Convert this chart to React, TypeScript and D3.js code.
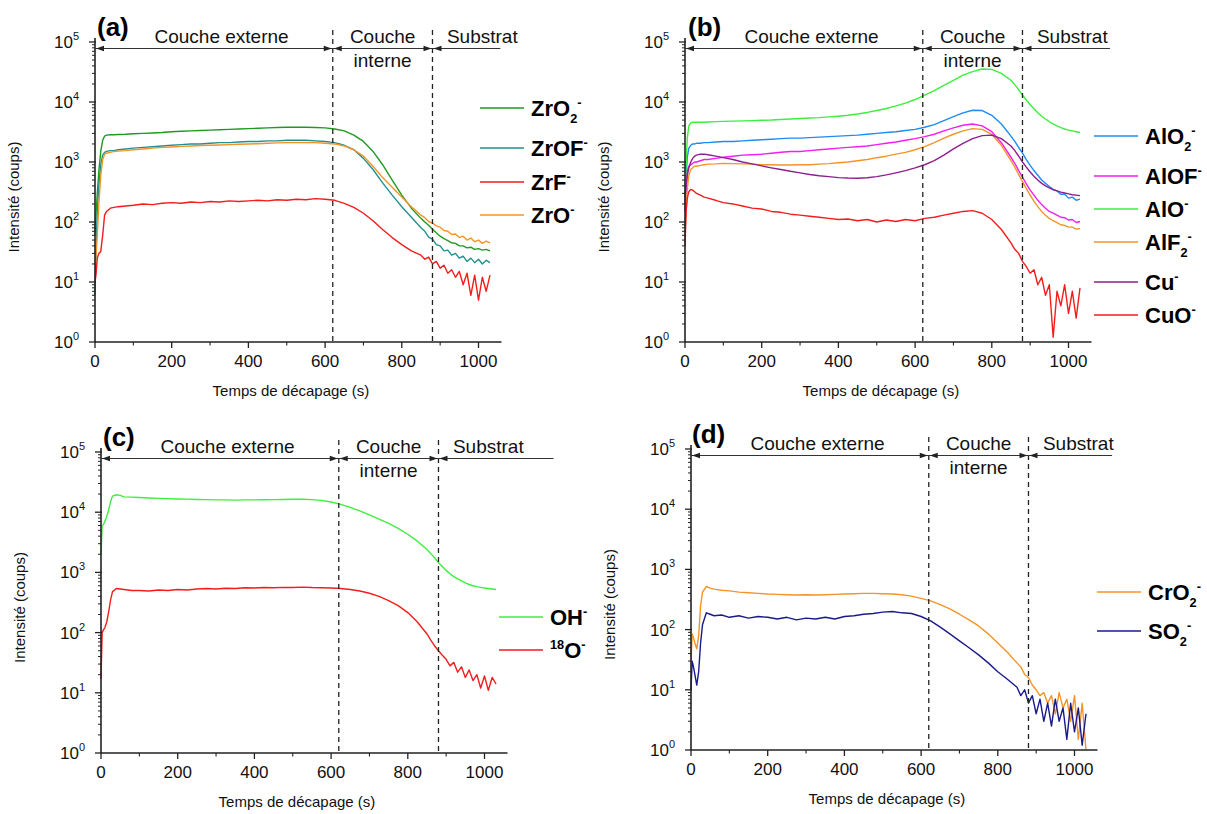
import React from "react";
import * as d3 from "d3";

// Sputtering time grid (s)
const TIME = [0,3,6,10,15,20,25,30,40,50,60,80,100,125,150,175,200,225,250,275,300,325,350,375,400,425,450,475,500,525,550,575,600,625,650,675,700,725,750,775,800,825,850,860,870,880,890,900,910,920,930,940,950,960,970,980,990,1000,1010,1020,1030];

// Panel (a)
const ZRO2 = [60,150,300,700,1500,2300,2700,2800,2850,2850,
 2880,2900,2950,3000,3050,3100,3200,3250,3300,3350,
 3400,3450,3500,3550,3600,3650,3700,3750,3800,3800,
 3800,3750,3700,3550,3300,2800,2200,1500,900,500,
 280,170,115,100,88,76,66,58,53,49,
 45,44,40,40,37,38,35,36,34,35,33];
const ZROF = [6,40,150,400,900,1300,1450,1500,1550,1550,
 1600,1650,1700,1750,1800,1850,1900,1950,2000,2000,
 2050,2100,2100,2150,2200,2200,2250,2250,2300,2300,
 2300,2250,2200,2100,1900,1600,1150,750,450,280,
 180,120,80,70,56,52,42,40,33,34,
 28,30,25,27,22,25,21,24,20,23,21];
const ZRF = [10,14,25,30,32,60,130,150,170,175,
 180,185,190,200,195,205,210,205,215,210,
 220,215,225,220,225,230,225,235,230,240,
 235,245,240,230,205,175,140,105,75,55,
 42,33,28,24,26,20,22,17,19,14,
 16,12,15,9,14,6,13,5,12,7,13];
const ZRO = [20,30,60,200,600,1100,1350,1400,1450,1500,
 1520,1550,1600,1650,1700,1750,1780,1820,1850,1880,
 1900,1920,1950,1980,2000,2020,2050,2080,2100,2100,
 2100,2100,2050,2000,1850,1600,1250,850,550,380,
 260,180,130,118,102,96,86,82,72,70,
 62,63,55,58,50,54,47,50,44,48,45];

// Panel (b)
const ALO2 = [200,600,1200,1700,1900,2000,2000,2050,2050,2100,
 2100,2150,2200,2200,2250,2300,2350,2400,2450,2500,
 2500,2550,2600,2650,2700,2750,2800,2900,3000,3100,
 3200,3350,3500,3800,4200,4900,5700,6600,7300,7200,
 6000,4300,2700,2200,1750,1400,1100,880,720,600,
 500,440,390,350,330,290,290,250,260,230,240];
const ALOF = [150,400,700,850,900,950,1000,1000,1050,1100,
 1100,1150,1200,1250,1300,1320,1350,1400,1450,1500,
 1500,1550,1600,1650,1700,1750,1800,1850,1950,2050,
 2150,2300,2450,2650,2900,3300,3700,4100,4300,4000,
 3200,2100,1200,950,720,560,430,340,280,230,
 195,170,150,140,130,120,118,108,110,98,102];
const ALO = [300,1000,2500,4000,4500,4600,4600,4600,4600,4600,
 4650,4700,4750,4800,4850,4900,4950,5000,5100,5200,
 5300,5400,5500,5650,5800,6000,6300,6700,7200,7800,
 8600,9600,11000,13000,15500,19000,23000,28000,32000,35500,
 35000,30000,23000,19500,16000,13000,10800,9000,7700,6600,
 5800,5200,4700,4300,4000,3750,3550,3400,3300,3200,3100];
const ALF2 = [80,150,350,600,750,800,850,850,880,900,
 920,930,950,940,930,920,900,900,890,890,
 900,900,920,940,970,1000,1050,1100,1180,1250,
 1350,1450,1600,1800,2100,2500,2900,3300,3600,3500,
 2900,1900,1050,820,620,470,360,280,220,180,
 150,130,115,105,98,90,88,82,82,76,78];
const CU = [250,400,600,800,1000,1150,1250,1300,1350,1350,
 1320,1250,1180,1100,1000,930,860,800,750,700,
 660,620,590,570,550,540,535,545,570,610,
 660,720,800,900,1050,1300,1650,2050,2450,2750,
 2800,2450,1850,1550,1250,1000,820,680,580,500,
 440,400,370,345,330,315,305,295,285,280,275];
const CUO = [40,150,250,320,350,340,320,300,280,260,
 250,230,210,200,185,170,165,150,145,135,
 130,125,120,115,110,112,105,110,100,108,
 102,110,105,115,120,130,140,150,155,140,
 110,75,45,35,30,22,18,14,16,9,
 12,6,9,1.2,7,4,9,3,7,2.5,8];

// Panel (c)
const OH = [2000,6000,6200,7000,8500,11000,15000,18500,19500,19000,
 18000,17800,17500,17200,17000,16800,16600,16500,16300,16200,
 16000,16000,15900,16000,16000,16100,16200,16300,16400,16400,
 16200,15700,14800,13500,12000,10500,9000,7700,6500,5400,
 4300,3300,2400,2050,1750,1450,1250,1080,950,850,
 780,720,670,630,600,580,565,550,540,530,520];
const O18 = [17,100,110,120,150,220,350,480,540,530,
 520,500,500,490,510,500,520,510,530,540,
 530,545,540,555,550,560,555,565,560,570,
 560,555,550,540,520,490,450,400,340,280,
 215,150,95,75,60,50,42,36,28,32,
 22,27,18,24,16,20,12,19,11,18,14];

// Panel (d)
const CRO2 = [30,85,75,60,48,80,250,420,520,490,
 470,450,440,420,410,400,390,385,380,375,
 380,375,380,385,390,395,400,400,395,390,
 380,360,330,300,260,220,180,145,115,85,
 60,42,28,24,18,16,12,10,8,9,
 6,8,4,9,5,7,3,8,1.5,6,1];
const SO2 = [10,30,25,18,12,20,60,120,190,180,
 170,175,160,170,155,165,160,150,160,145,
 155,150,160,150,165,170,180,185,195,200,
 190,185,165,140,110,85,65,50,38,28,
 20,15,11,8,10,6,8,4,7,3,
 6,2.5,7,3,5,1.5,6,2,5,1.2,4];

const X_TICKS = [0, 200, 400, 600, 800, 1000];
const X_MINOR = [100, 300, 500, 700, 900];
const Y_EXP = [0, 1, 2, 3, 4, 5];
const BOUNDARIES = [620, 880];

const FONT = "'Liberation Sans', Arial, Helvetica, sans-serif";
const PX = 0.3835;

type Part = { t: string; sub?: boolean; sup?: boolean };
type Series = { name: Part[]; color: string; values: number[] };

const C_GREEN_DARK = "#1f9a22";
const C_TEAL = "#23908f";
const C_RED = "#f41c1c";
const C_ORANGE = "#f49428";
const C_BLUE = "#1e8cf2";
const C_MAGENTA = "#f21ef2";
const C_LIME = "#3cef3c";
const C_PURPLE = "#8e1f8e";
const C_NAVY = "#1a1a8c";

const PANELS = [
  {
    label: "(a)", x0: 95, top: 42, bottom: 342, labelX: 97, labelY: 36, arrowEnd: 1057,
    legendX: 480, legendY: [108, 148, 182, 215],
    series: [
      { name: [{ t: "ZrO" }, { t: "2", sub: true }, { t: "-", sup: true }], color: C_GREEN_DARK, values: ZRO2 },
      { name: [{ t: "ZrOF" }, { t: "-", sup: true }], color: C_TEAL, values: ZROF },
      { name: [{ t: "ZrF" }, { t: "-", sup: true }], color: C_RED, values: ZRF },
      { name: [{ t: "ZrO" }, { t: "-", sup: true }], color: C_ORANGE, values: ZRO },
    ] as Series[],
  },
  {
    label: "(b)", x0: 685, top: 42, bottom: 342, labelX: 688, labelY: 36, arrowEnd: 1108,
    legendX: 1094, legendY: [136, 176, 209, 242, 282, 315],
    series: [
      { name: [{ t: "AlO" }, { t: "2", sub: true }, { t: "-", sup: true }], color: C_BLUE, values: ALO2 },
      { name: [{ t: "AlOF" }, { t: "-", sup: true }], color: C_MAGENTA, values: ALOF },
      { name: [{ t: "AlO" }, { t: "-", sup: true }], color: C_LIME, values: ALO },
      { name: [{ t: "AlF" }, { t: "2", sub: true }, { t: "-", sup: true }], color: C_ORANGE, values: ALF2 },
      { name: [{ t: "Cu" }, { t: "-", sup: true }], color: C_PURPLE, values: CU },
      { name: [{ t: "CuO" }, { t: "-", sup: true }], color: C_RED, values: CUO },
    ] as Series[],
  },
  {
    label: "(c)", x0: 101, top: 452, bottom: 753, labelX: 103, labelY: 446, arrowEnd: 1180,
    legendX: 499, legendY: [617, 650],
    series: [
      { name: [{ t: "OH" }, { t: "-", sup: true }], color: C_LIME, values: OH },
      { name: [{ t: "18", sup: true }, { t: "O" }, { t: "-", sup: true }], color: C_RED, values: O18 },
    ] as Series[],
  },
  {
    label: "(d)", x0: 691, top: 449, bottom: 750, labelX: 692, labelY: 443, arrowEnd: 1098,
    legendX: 1097, legendY: [592, 631],
    series: [
      { name: [{ t: "CrO" }, { t: "2", sub: true }, { t: "-", sup: true }], color: C_ORANGE, values: CRO2 },
      { name: [{ t: "SO" }, { t: "2", sub: true }, { t: "-", sup: true }], color: C_NAVY, values: SO2 },
    ] as Series[],
  },
];

function RichText({ parts, x, y, size, weight, anchor }: { parts: Part[]; x: number; y: number; size: number; weight?: string; anchor?: string }) {
  let cur = 0;
  const spans = parts.map((p, i) => {
    const target = p.sub ? size * 0.32 : p.sup ? -size * 0.42 : 0;
    const dy = target - cur;
    cur = target;
    return (
      <tspan key={i} dy={dy} fontSize={p.sub || p.sup ? size * 0.58 : size}>
        {p.t}
      </tspan>
    );
  });
  return (
    <text x={x} y={y} fontSize={size} fontWeight={weight || "normal"} textAnchor={anchor || "start"} fontFamily={FONT} fill="#000">
      {spans}
    </text>
  );
}

function Arrow({ x, y, dir }: { x: number; y: number; dir: number }) {
  const L = 8, H = 2.8;
  return <path d={`M${x},${y} L${x - dir * L},${y - H} L${x - dir * L},${y + H} Z`} fill="#222" />;
}

function Panel({ cfg }: { cfg: (typeof PANELS)[number] }) {
  const x = d3.scaleLinear().domain([0, 1060]).range([cfg.x0, cfg.x0 + 1060 * PX]);
  const y = d3.scaleLog().domain([1, 1e5]).range([cfg.bottom, cfg.top]);
  const line = d3
    .line<number>()
    .x((_, i) => x(TIME[i]))
    .y((v) => y(Math.max(v, 1)));
  const minors: number[] = [];
  for (let e = 0; e < 5; e++) for (let m = 2; m <= 9; m++) minors.push(m * Math.pow(10, e));
  const ay = cfg.top + 6.5;
  const b1 = x(BOUNDARIES[0]);
  const b2 = x(BOUNDARIES[1]);
  return (
    <g>
      {/* series */}
      {cfg.series.map((s, i) => (
        <path key={i} d={line(s.values) || ""} fill="none" stroke={s.color} strokeWidth={1.4} strokeLinejoin="round" />
      ))}
      {/* axes */}
      <line x1={cfg.x0} x2={cfg.x0} y1={cfg.bottom} y2={cfg.top - 4} stroke="#222" strokeWidth={1.6} />
      <line x1={cfg.x0} x2={x(1060)} y1={cfg.bottom} y2={cfg.bottom} stroke="#222" strokeWidth={1.6} />
      {Y_EXP.map((e) => (
        <g key={e}>
          <line x1={cfg.x0 - 6} x2={cfg.x0 + 1} y1={y(Math.pow(10, e))} y2={y(Math.pow(10, e))} stroke="#222" strokeWidth={1.3} />
          <text x={cfg.x0 - 16} y={y(Math.pow(10, e)) + 6} fontSize={17} textAnchor="end" fontFamily={FONT} fill="#111">
            <tspan>10</tspan>
            <tspan dy={-8} fontSize={11}>{e}</tspan>
          </text>
        </g>
      ))}
      {minors.map((v) => (
        <line key={v} x1={cfg.x0 - 3} x2={cfg.x0} y1={y(v)} y2={y(v)} stroke="#222" strokeWidth={1} />
      ))}
      {X_TICKS.map((t) => (
        <g key={t}>
          <line x1={x(t)} x2={x(t)} y1={cfg.bottom} y2={cfg.bottom + 6} stroke="#222" strokeWidth={1.3} />
          <text x={x(t)} y={cfg.bottom + 25} fontSize={17} textAnchor="middle" fontFamily={FONT} fill="#111">
            {t}
          </text>
        </g>
      ))}
      {X_MINOR.map((t) => (
        <line key={t} x1={x(t)} x2={x(t)} y1={cfg.bottom} y2={cfg.bottom + 3.5} stroke="#222" strokeWidth={1.1} />
      ))}
      {/* axis titles */}
      <text
        transform={`translate(${cfg.x0 - 76},${(cfg.top + cfg.bottom) / 2 + 5}) rotate(-90)`}
        fontSize={15} textAnchor="middle" fontFamily={FONT} fill="#111"
      >
        Intensité (coups)
      </text>
      <text x={cfg.x0 + 196} y={cfg.bottom + 54} fontSize={15} textAnchor="middle" fontFamily={FONT} fill="#111">
        Temps de décapage (s)
      </text>
      {/* boundaries */}
      {[b1, b2].map((bx, i) => (
        <line key={i} x1={bx} x2={bx} y1={cfg.top - 12} y2={cfg.bottom} stroke="#222" strokeWidth={1.3} strokeDasharray="5,4" />
      ))}
      {/* region arrows */}
      <line x1={cfg.x0} x2={x(cfg.arrowEnd)} y1={ay} y2={ay} stroke="#333" strokeWidth={1} />
      <Arrow x={cfg.x0 + 1} y={ay} dir={-1} />
      <Arrow x={b1 - 1} y={ay} dir={1} />
      <Arrow x={b1 + 1} y={ay} dir={-1} />
      <Arrow x={b2 - 1} y={ay} dir={1} />
      <Arrow x={b2 + 1} y={ay} dir={-1} />
      <text x={x(330)} y={cfg.top + 1} fontSize={19} textAnchor="middle" fontFamily={FONT} fill="#111">
        Couche externe
      </text>
      <text x={x(750)} y={cfg.top + 1} fontSize={19} textAnchor="middle" fontFamily={FONT} fill="#111">
        Couche
      </text>
      <text x={x(750)} y={cfg.top + 25} fontSize={19} textAnchor="middle" fontFamily={FONT} fill="#111">
        interne
      </text>
      <text x={x(1010)} y={cfg.top + 1} fontSize={19} textAnchor="middle" fontFamily={FONT} fill="#111">
        Substrat
      </text>
      {/* panel label */}
      <text x={cfg.labelX} y={cfg.labelY} fontSize={26} fontWeight="bold" fontFamily={FONT} fill="#000">
        {cfg.label}
      </text>
      {/* legend */}
      {cfg.series.map((s, i) => (
        <g key={i}>
          <line x1={cfg.legendX} x2={cfg.legendX + 44} y1={cfg.legendY[i]} y2={cfg.legendY[i]} stroke={s.color} strokeWidth={1.6} />
          <RichText parts={s.name} x={cfg.legendX + 51} y={cfg.legendY[i] + 8} size={22} weight="bold" />
        </g>
      ))}
    </g>
  );
}

export default function App() {
  return (
    <svg
      width={1207}
      height={814}
      viewBox="0 0 1207 814"
      style={{ position: "absolute", left: 0, top: 0, background: "#fff" }}
    >
      <rect x={0} y={0} width={1207} height={814} fill="#fff" />
      {PANELS.map((p) => (
        <Panel key={p.label} cfg={p} />
      ))}
    </svg>
  );
}
